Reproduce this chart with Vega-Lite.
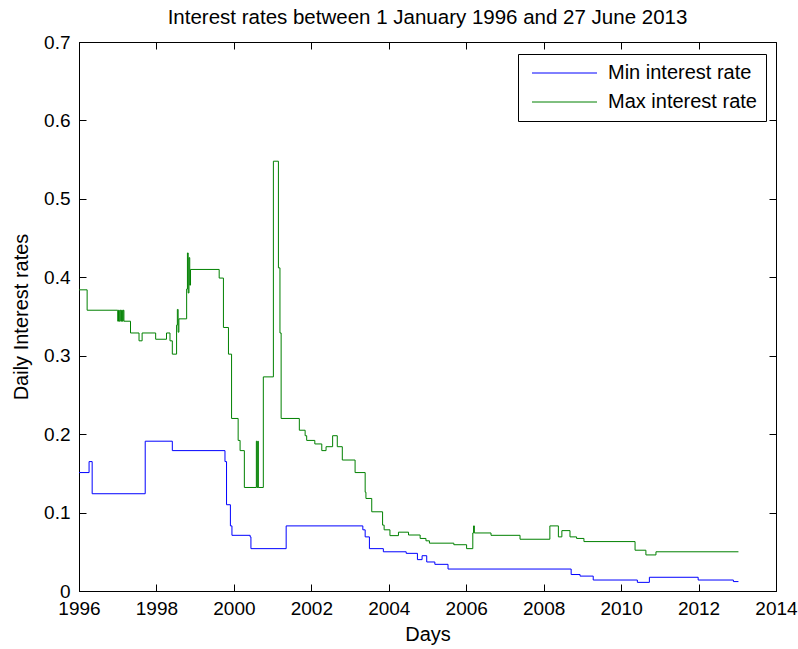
{
  "$schema": "https://vega.github.io/schema/vega-lite/v6.json",
  "width": 697,
  "height": 549,
  "autosize": {"type": "none"},
  "padding": {"left": 79, "top": 42, "right": 22, "bottom": 58},
  "background": "white",
  "title": {
    "text": "Interest rates between 1 January 1996 and 27 June 2013",
    "fontSize": 20.5,
    "fontWeight": "normal",
    "font": "Liberation Sans",
    "color": "black",
    "anchor": "middle",
    "frame": "group",
    "baseline": "bottom",
    "offset": -15
  },
  "config": {
    "view": {"stroke": "black", "strokeWidth": 1},
    "axis": {
      "domainColor": "black",
      "tickColor": "black",
      "labelColor": "black",
      "titleColor": "black",
      "labelFont": "Liberation Sans",
      "titleFont": "Liberation Sans",
      "labelFontSize": 19,
      "titleFontSize": 20,
      "titleFontWeight": "normal",
      "tickSize": -7,
      "grid": false,
      "labelFlush": false,
      "labelOverlap": false
    }
  },
  "data": {
    "values": [
      {"s": "Min interest rate", "t": 1996.00, "v": 0.151},
      {"s": "Min interest rate", "t": 1996.26, "v": 0.165},
      {"s": "Min interest rate", "t": 1996.34, "v": 0.124},
      {"s": "Min interest rate", "t": 1997.71, "v": 0.191},
      {"s": "Min interest rate", "t": 1998.41, "v": 0.179},
      {"s": "Min interest rate", "t": 1999.77, "v": 0.165},
      {"s": "Min interest rate", "t": 1999.81, "v": 0.110},
      {"s": "Min interest rate", "t": 1999.91, "v": 0.083},
      {"s": "Min interest rate", "t": 1999.95, "v": 0.071},
      {"s": "Min interest rate", "t": 2000.42, "v": 0.069},
      {"s": "Min interest rate", "t": 2000.44, "v": 0.054},
      {"s": "Min interest rate", "t": 2001.35, "v": 0.083},
      {"s": "Min interest rate", "t": 2003.33, "v": 0.078},
      {"s": "Min interest rate", "t": 2003.39, "v": 0.069},
      {"s": "Min interest rate", "t": 2003.50, "v": 0.054},
      {"s": "Min interest rate", "t": 2003.86, "v": 0.050},
      {"s": "Min interest rate", "t": 2004.45, "v": 0.048},
      {"s": "Min interest rate", "t": 2004.74, "v": 0.040},
      {"s": "Min interest rate", "t": 2004.86, "v": 0.045},
      {"s": "Min interest rate", "t": 2004.98, "v": 0.037},
      {"s": "Min interest rate", "t": 2005.19, "v": 0.034},
      {"s": "Min interest rate", "t": 2005.53, "v": 0.028},
      {"s": "Min interest rate", "t": 2008.71, "v": 0.021},
      {"s": "Min interest rate", "t": 2008.94, "v": 0.019},
      {"s": "Min interest rate", "t": 2009.28, "v": 0.014},
      {"s": "Min interest rate", "t": 2010.42, "v": 0.011},
      {"s": "Min interest rate", "t": 2010.73, "v": 0.0175},
      {"s": "Min interest rate", "t": 2011.99, "v": 0.014},
      {"s": "Min interest rate", "t": 2012.90, "v": 0.012},
      {"s": "Min interest rate", "t": 2013.03, "v": 0.012},
      {"s": "Max interest rate", "t": 1996.00, "v": 0.384},
      {"s": "Max interest rate", "t": 1996.21, "v": 0.358},
      {"s": "Max interest rate", "t": 1997.00, "v": 0.344},
      {"s": "Max interest rate", "t": 1997.02, "v": 0.358},
      {"s": "Max interest rate", "t": 1997.04, "v": 0.344},
      {"s": "Max interest rate", "t": 1997.06, "v": 0.358},
      {"s": "Max interest rate", "t": 1997.08, "v": 0.344},
      {"s": "Max interest rate", "t": 1997.10, "v": 0.358},
      {"s": "Max interest rate", "t": 1997.12, "v": 0.344},
      {"s": "Max interest rate", "t": 1997.14, "v": 0.358},
      {"s": "Max interest rate", "t": 1997.16, "v": 0.344},
      {"s": "Max interest rate", "t": 1997.33, "v": 0.329},
      {"s": "Max interest rate", "t": 1997.55, "v": 0.319},
      {"s": "Max interest rate", "t": 1997.63, "v": 0.329},
      {"s": "Max interest rate", "t": 1997.98, "v": 0.321},
      {"s": "Max interest rate", "t": 1998.26, "v": 0.329},
      {"s": "Max interest rate", "t": 1998.35, "v": 0.319},
      {"s": "Max interest rate", "t": 1998.41, "v": 0.302},
      {"s": "Max interest rate", "t": 1998.52, "v": 0.339},
      {"s": "Max interest rate", "t": 1998.54, "v": 0.359},
      {"s": "Max interest rate", "t": 1998.56, "v": 0.330},
      {"s": "Max interest rate", "t": 1998.58, "v": 0.347},
      {"s": "Max interest rate", "t": 1998.78, "v": 0.385},
      {"s": "Max interest rate", "t": 1998.80, "v": 0.431},
      {"s": "Max interest rate", "t": 1998.82, "v": 0.380},
      {"s": "Max interest rate", "t": 1998.84, "v": 0.425},
      {"s": "Max interest rate", "t": 1998.86, "v": 0.390},
      {"s": "Max interest rate", "t": 1998.88, "v": 0.410},
      {"s": "Max interest rate", "t": 1999.62, "v": 0.399},
      {"s": "Max interest rate", "t": 1999.73, "v": 0.336},
      {"s": "Max interest rate", "t": 1999.86, "v": 0.302},
      {"s": "Max interest rate", "t": 1999.94, "v": 0.220},
      {"s": "Max interest rate", "t": 2000.11, "v": 0.192},
      {"s": "Max interest rate", "t": 2000.16, "v": 0.179},
      {"s": "Max interest rate", "t": 2000.27, "v": 0.132},
      {"s": "Max interest rate", "t": 2000.58, "v": 0.191},
      {"s": "Max interest rate", "t": 2000.60, "v": 0.132},
      {"s": "Max interest rate", "t": 2000.62, "v": 0.191},
      {"s": "Max interest rate", "t": 2000.63, "v": 0.132},
      {"s": "Max interest rate", "t": 2000.76, "v": 0.273},
      {"s": "Max interest rate", "t": 2001.02, "v": 0.548},
      {"s": "Max interest rate", "t": 2001.15, "v": 0.412},
      {"s": "Max interest rate", "t": 2001.19, "v": 0.329},
      {"s": "Max interest rate", "t": 2001.22, "v": 0.220},
      {"s": "Max interest rate", "t": 2001.69, "v": 0.205},
      {"s": "Max interest rate", "t": 2001.84, "v": 0.198},
      {"s": "Max interest rate", "t": 2001.88, "v": 0.192},
      {"s": "Max interest rate", "t": 2002.09, "v": 0.1875},
      {"s": "Max interest rate", "t": 2002.27, "v": 0.179},
      {"s": "Max interest rate", "t": 2002.38, "v": 0.184},
      {"s": "Max interest rate", "t": 2002.55, "v": 0.198},
      {"s": "Max interest rate", "t": 2002.67, "v": 0.184},
      {"s": "Max interest rate", "t": 2002.80, "v": 0.167},
      {"s": "Max interest rate", "t": 2003.13, "v": 0.151},
      {"s": "Max interest rate", "t": 2003.39, "v": 0.126},
      {"s": "Max interest rate", "t": 2003.41, "v": 0.118},
      {"s": "Max interest rate", "t": 2003.56, "v": 0.101},
      {"s": "Max interest rate", "t": 2003.84, "v": 0.084},
      {"s": "Max interest rate", "t": 2003.88, "v": 0.078},
      {"s": "Max interest rate", "t": 2004.03, "v": 0.0706},
      {"s": "Max interest rate", "t": 2004.25, "v": 0.075},
      {"s": "Max interest rate", "t": 2004.51, "v": 0.0714},
      {"s": "Max interest rate", "t": 2004.81, "v": 0.067},
      {"s": "Max interest rate", "t": 2004.96, "v": 0.064},
      {"s": "Max interest rate", "t": 2005.05, "v": 0.061},
      {"s": "Max interest rate", "t": 2005.68, "v": 0.059},
      {"s": "Max interest rate", "t": 2006.01, "v": 0.054},
      {"s": "Max interest rate", "t": 2006.17, "v": 0.074},
      {"s": "Max interest rate", "t": 2006.19, "v": 0.083},
      {"s": "Max interest rate", "t": 2006.21, "v": 0.074},
      {"s": "Max interest rate", "t": 2006.64, "v": 0.071},
      {"s": "Max interest rate", "t": 2007.39, "v": 0.066},
      {"s": "Max interest rate", "t": 2008.16, "v": 0.083},
      {"s": "Max interest rate", "t": 2008.38, "v": 0.069},
      {"s": "Max interest rate", "t": 2008.47, "v": 0.077},
      {"s": "Max interest rate", "t": 2008.68, "v": 0.069},
      {"s": "Max interest rate", "t": 2008.85, "v": 0.067},
      {"s": "Max interest rate", "t": 2009.04, "v": 0.063},
      {"s": "Max interest rate", "t": 2010.36, "v": 0.052},
      {"s": "Max interest rate", "t": 2010.64, "v": 0.046},
      {"s": "Max interest rate", "t": 2010.90, "v": 0.050},
      {"s": "Max interest rate", "t": 2013.03, "v": 0.050}
    ]
  },
  "layer": [
    {
      "mark": {"type": "line", "interpolate": "step-after", "strokeWidth": 1},
      "encoding": {
        "x": {
          "field": "t",
          "type": "quantitative",
          "scale": {"domain": [1996, 2014], "nice": false, "zero": false},
          "axis": {
            "orient": "bottom",
            "title": "Days",
            "values": [1996, 1998, 2000, 2002, 2004, 2006, 2008, 2010, 2012, 2014],
            "format": "d",
            "labelPadding": 15,
            "titlePadding": 6
          }
        },
        "y": {
          "field": "v",
          "type": "quantitative",
          "scale": {"domain": [0, 0.7], "nice": false},
          "axis": {
            "orient": "left",
            "title": "Daily Interest rates",
            "values": [0, 0.1, 0.2, 0.3, 0.4, 0.5, 0.6, 0.7],
            "labelExpr": "datum.value == 0 ? '0' : format(datum.value, '.1f')",
            "labelPadding": 16,
            "titlePadding": 12
          }
        },
        "color": {
          "field": "s",
          "type": "nominal",
          "scale": {
            "domain": ["Min interest rate", "Max interest rate"],
            "range": ["#0000ff", "#008000"]
          },
          "legend": {
            "orient": "none",
            "legendX": 439,
            "legendY": 12,
            "title": null,
            "strokeColor": "black",
            "fillColor": "white",
            "padding": 9,
            "labelFont": "Liberation Sans",
            "labelFontSize": 20,
            "labelColor": "black",
            "symbolType": "M-1,0H12",
            "symbolSize": 100,
            "symbolStrokeWidth": 1,
            "labelOffset": 61,
            "rowPadding": 9
          }
        }
      }
    },
    {
      "mark": {"type": "line", "interpolate": "step-after", "opacity": 0},
      "encoding": {
        "x": {
          "field": "t",
          "type": "quantitative",
          "axis": {
            "orient": "top",
            "title": null,
            "labels": false,
            "domain": false,
            "values": [1996, 1998, 2000, 2002, 2004, 2006, 2008, 2010, 2012, 2014]
          }
        },
        "y": {
          "field": "v",
          "type": "quantitative",
          "axis": {
            "orient": "right",
            "title": null,
            "labels": false,
            "domain": false,
            "values": [0, 0.1, 0.2, 0.3, 0.4, 0.5, 0.6, 0.7]
          }
        },
        "detail": {"field": "s", "type": "nominal"}
      }
    }
  ],
  "resolve": {"axis": {"x": "independent", "y": "independent"}}
}
